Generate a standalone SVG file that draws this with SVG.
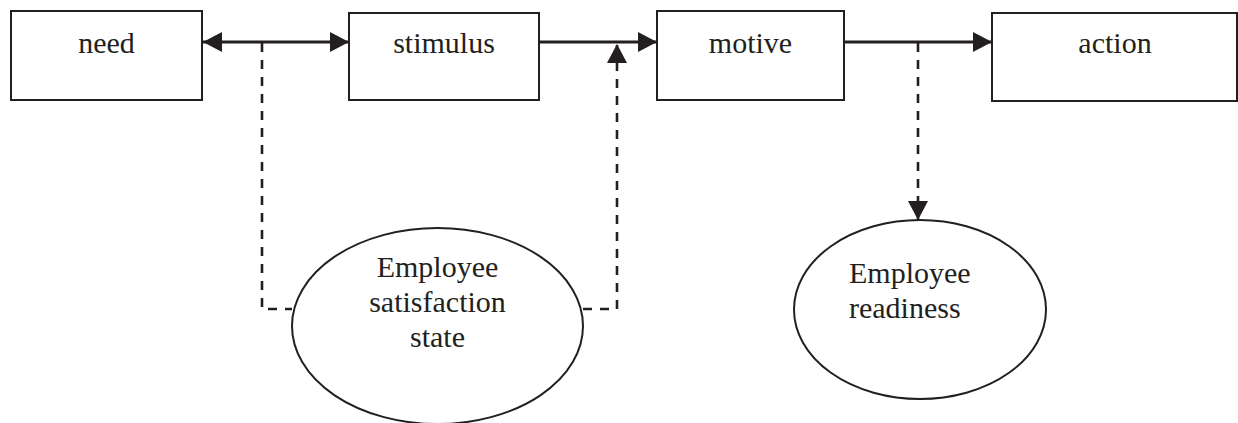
<svg xmlns="http://www.w3.org/2000/svg" width="1238" height="423" viewBox="0 0 1238 423">
<style>
.box{fill:#fff;stroke:#231f20;stroke-width:2}
.ell{fill:#fff;stroke:#231f20;stroke-width:2}
.t{font-family:"Liberation Serif","Times New Roman",serif;font-size:30px;fill:#231f20}
.solid{fill:none;stroke:#231f20;stroke-width:3}
.dash{fill:none;stroke:#231f20;stroke-width:2.6;stroke-dasharray:9 8}
</style>
<defs>
<marker id="arr" viewBox="0 0 19 20" refX="19" refY="10" markerWidth="19" markerHeight="20" markerUnits="userSpaceOnUse" orient="auto-start-reverse">
<path d="M0,0 L19,10 L0,20 Z" fill="#231f20" stroke="none"/>
</marker>
</defs>
<g id="connectors">
<line class="solid" x1="203" y1="42" x2="349" y2="42" marker-start="url(#arr)" marker-end="url(#arr)"/>
<line class="solid" x1="539" y1="42" x2="657" y2="42" marker-end="url(#arr)"/>
<line class="solid" x1="844" y1="42" x2="992" y2="42" marker-end="url(#arr)"/>
<path class="dash" d="M262,43 V309 H292"/>
<path class="dash" d="M583,309 H617 V44" marker-end="url(#arr)"/>
<path class="dash" d="M918,43 V220" marker-end="url(#arr)"/>
</g>
<g id="need">
<rect class="box" x="11" y="11" width="191" height="89"/>
<text class="t" x="106.5" y="53" text-anchor="middle">need</text>
</g>
<g id="stimulus">
<rect class="box" x="349" y="13" width="190" height="87"/>
<text class="t" x="444" y="53" text-anchor="middle">stimulus</text>
</g>
<g id="motive">
<rect class="box" x="657" y="11" width="187" height="89"/>
<text class="t" x="750.5" y="53" text-anchor="middle">motive</text>
</g>
<g id="action">
<rect class="box" x="992" y="13" width="245" height="88"/>
<text class="t" x="1115" y="53" text-anchor="middle">action</text>
</g>
<g id="satisfaction">
<ellipse class="ell" cx="437.5" cy="326" rx="145.5" ry="98"/>
<text class="t" x="437.5" y="277" text-anchor="middle">Employee</text>
<text class="t" x="437.5" y="312" text-anchor="middle">satisfaction</text>
<text class="t" x="437.5" y="347" text-anchor="middle">state</text>
</g>
<g id="readiness">
<ellipse class="ell" cx="920" cy="309.5" rx="126" ry="89.5"/>
<text class="t" x="849" y="283">Employee</text>
<text class="t" x="849" y="318">readiness</text>
</g>
</svg>
